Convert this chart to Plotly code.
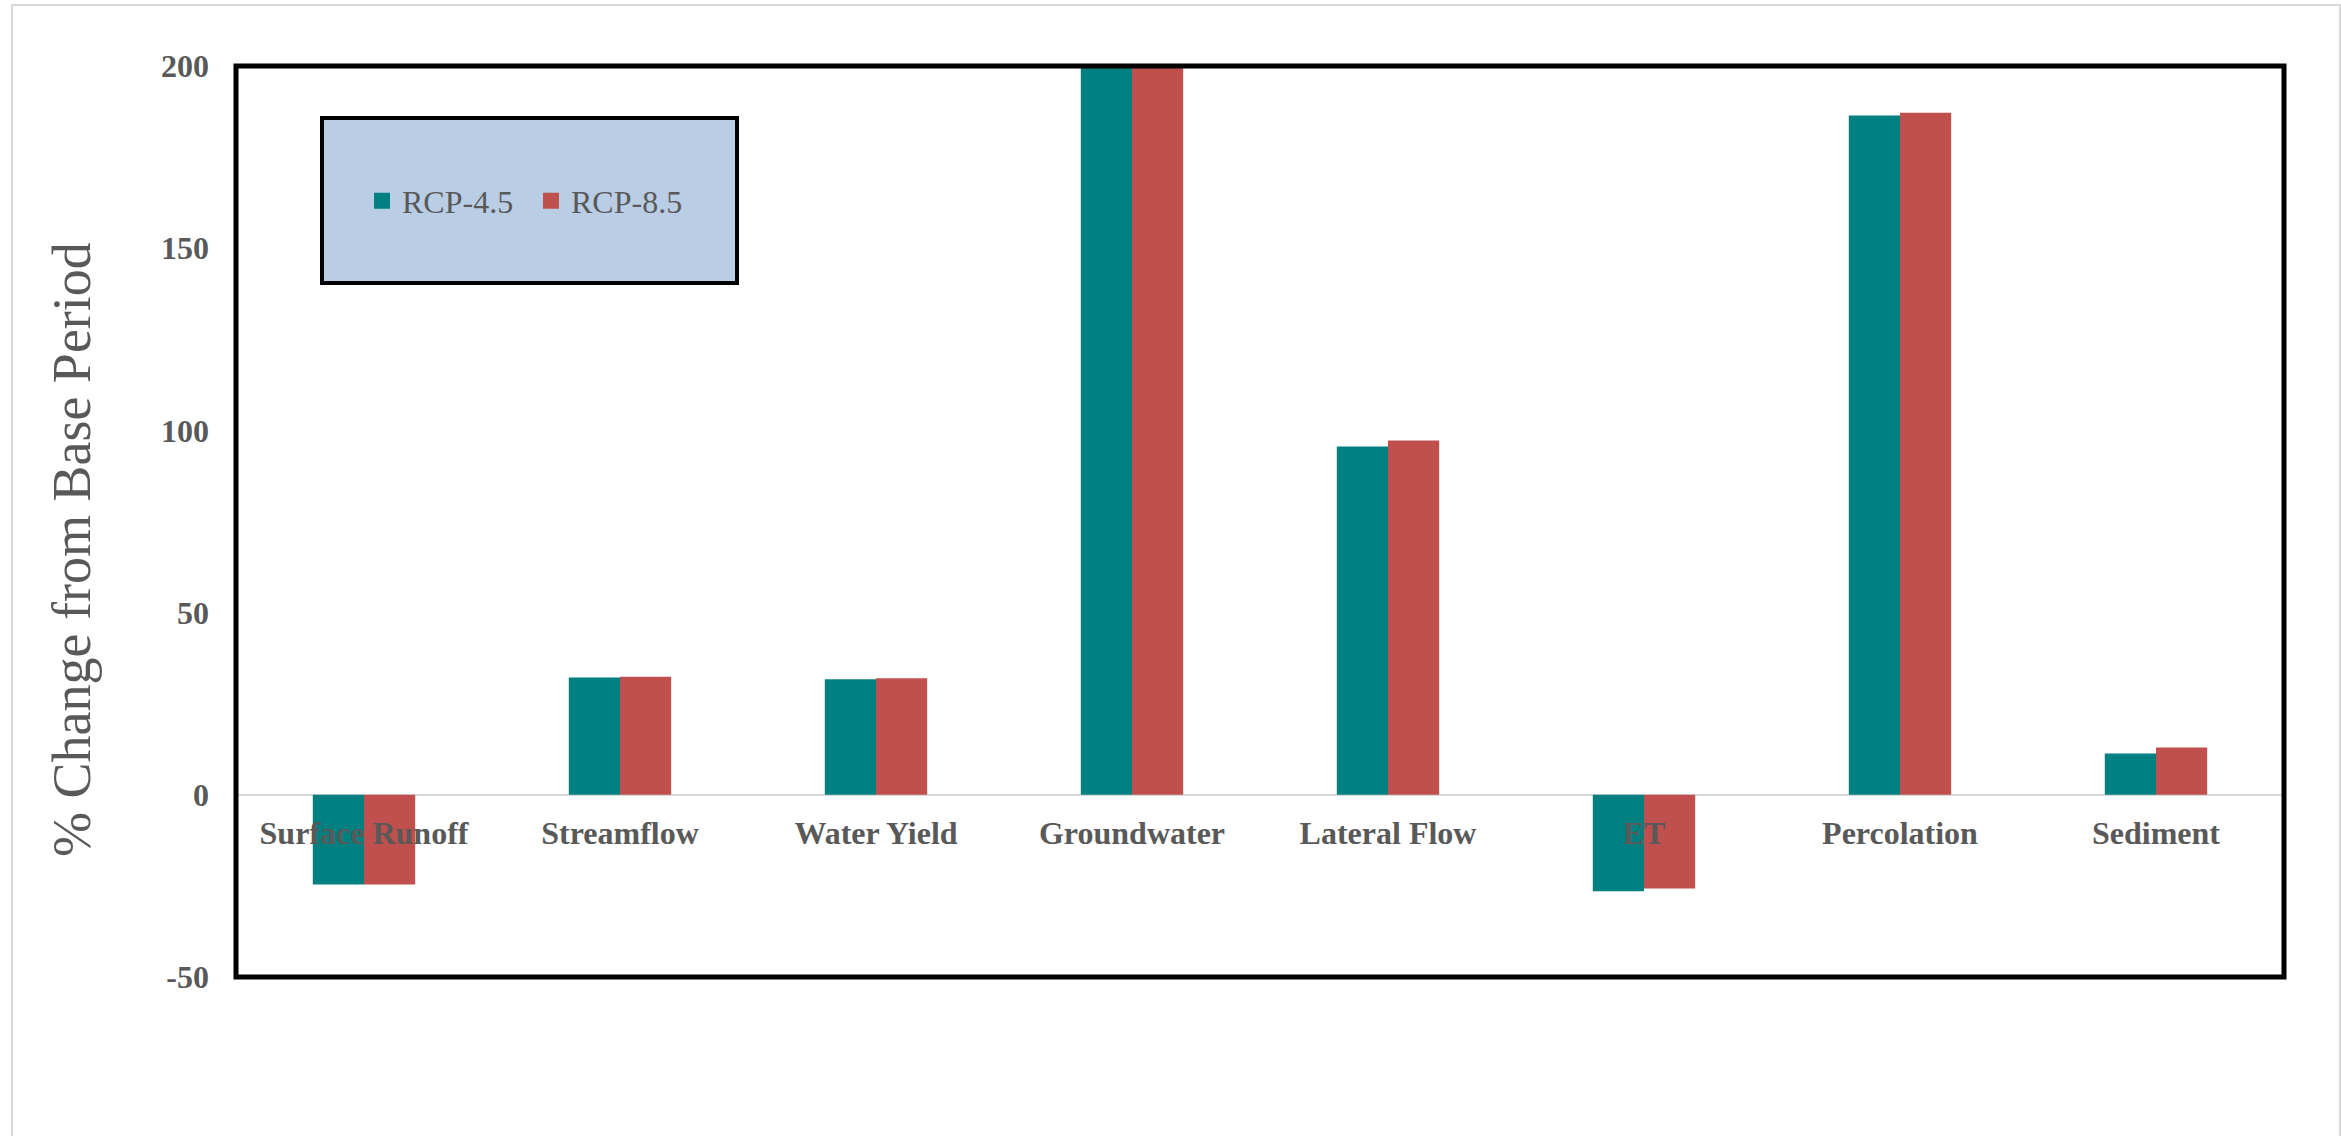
import plotly.graph_objects as go

categories = ["Surface Runoff", "Streamflow", "Water Yield", "Groundwater",
              "Lateral Flow", "ET", "Percolation", "Sediment"]
rcp45 = [-24.6, 32.2, 31.7, 200.0, 95.6, -26.5, 186.4, 11.3]
rcp85 = [-24.6, 32.4, 32.0, 200.0, 97.2, -25.7, 187.2, 13.0]
series_names = ["RCP-4.5", "RCP-8.5"]
series_colors = ["#008080", "#C0504D"]
y_tickvals = [-50, 0, 50, 100, 150, 200]
y_ticktext = ["-50", "0", "50", "100", "150", "200"]
y_title = "% Change from Base Period"

W, H = 2341, 1136
L, R, T, B = 236, 57, 66, 159
pw, ph = W - L - R, H - T - B

def px_x(p):
    return (p - L) / pw

def px_y(p):
    return (H - B - p) / ph

GRAY = "#595959"
SERIF = "Liberation Serif, Times New Roman, serif"

fig = go.Figure()
for name, vals, col in zip(series_names, [rcp45, rcp85], series_colors):
    fig.add_trace(go.Bar(x=categories, y=vals, name=name, marker_color=col,
                         marker_line_width=0, showlegend=False))
# legend proxies (square markers)
for name, col in zip(series_names, series_colors):
    fig.add_trace(go.Scatter(x=[categories[0]], y=[None], mode="markers", name=name,
                             marker=dict(symbol="square", size=16, color=col),
                             showlegend=True))

ymin, ymax = -50, 200
fig.update_layout(
    width=W, height=H,
    margin=dict(l=L, r=R, t=T, b=B, autoexpand=False),
    paper_bgcolor="white", plot_bgcolor="white",
    barmode="group", bargap=0.6, bargroupgap=0,
    showlegend=True,
    legend=dict(orientation="h", x=px_x(362), xanchor="left", y=px_y(201), yanchor="middle",
                bgcolor="rgba(0,0,0,0)", borderwidth=0,
                font=dict(family=SERIF, size=32, color=GRAY),
                entrywidth=124, itemsizing="trace"),
    xaxis=dict(anchor="free", position=(0 - ymin) / (ymax - ymin),
               showline=False, showgrid=False, ticks="", zeroline=False,
               tickfont=dict(family=SERIF, size=32, color=GRAY, weight="bold"),
               ticklabelstandoff=16, automargin=False),
    yaxis=dict(range=[ymin, ymax], tickvals=y_tickvals, ticktext=y_ticktext,
               showgrid=False, zeroline=True, zerolinecolor="#D9D9D9", zerolinewidth=2,
               showline=False, ticks="",
               tickfont=dict(family=SERIF, size=32, color=GRAY, weight="bold"),
               ticklabelstandoff=26, automargin=False),
    font=dict(family=SERIF, color=GRAY),
)

fig.add_annotation(text=y_title, textangle=-90, xref="paper", yref="paper",
                   x=px_x(72), y=px_y(550), xanchor="center", yanchor="middle",
                   showarrow=False, font=dict(family=SERIF, size=54, color=GRAY))

# outer chart border
fig.add_shape(type="rect", xref="paper", yref="paper",
              x0=px_x(12), x1=px_x(2340), y0=px_y(1150), y1=px_y(5),
              line=dict(color="#D9D9D9", width=2), layer="below")
# plot area box
fig.add_shape(type="rect", xref="paper", yref="paper", x0=0, x1=1, y0=0, y1=1,
              line=dict(color="black", width=5), layer="above")
# legend box
fig.add_shape(type="rect", xref="paper", yref="paper",
              x0=px_x(322), x1=px_x(737), y0=px_y(283), y1=px_y(118),
              fillcolor="#B9CDE5", line=dict(color="black", width=4), layer="above")

fig.write_html("out.html")
